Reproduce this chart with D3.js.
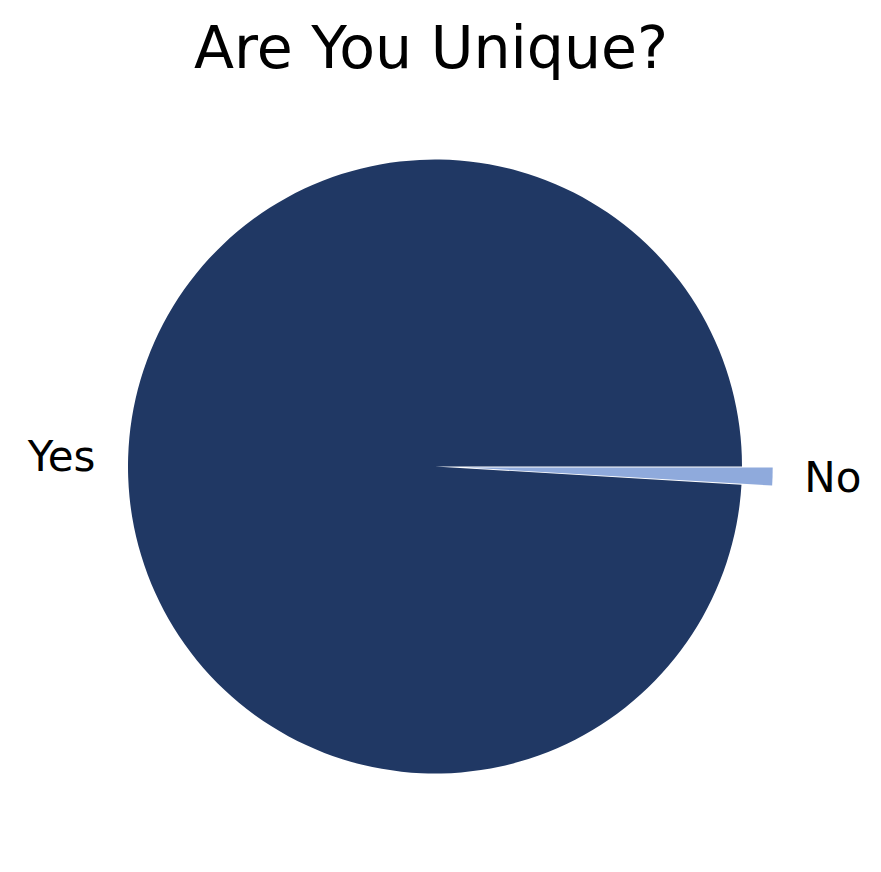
<!DOCTYPE html>
<html>
<head>
<meta charset="utf-8">
<script src="https://cdn.jsdelivr.net/npm/d3@7"></script>
<style>
  html, body { margin: 0; padding: 0; background: #ffffff; }
  svg { display: block; }
  text { font-family: "DejaVu Sans", sans-serif; fill: #000; }
</style>
</head>
<body>
<svg id="chart" width="881" height="872"></svg>
<script>
// Data
const categories = ["Yes", "No"];
const values = [105, 1];
const colors = ["#203864", "#8FAADC"];
const explode = [0, 0.1];
const title = "Are You Unique?";

const W = 881, H = 872;
const cx = 435, cy = 466.5, R = 307;

const svg = d3.select("#chart");

const data = categories.map((c, i) => ({ label: c, value: values[i], color: colors[i], explode: explode[i] }));

// matplotlib-style: start at east, counterclockwise
const pie = d3.pie()
  .sort(null)
  .value(d => d.value)
  .startAngle(Math.PI / 2)
  .endAngle(Math.PI / 2 - 2 * Math.PI);

const arcs = pie(data);
const arc = d3.arc().innerRadius(0).outerRadius(R);

const g = svg.append("g").attr("transform", `translate(${cx},${cy})`);

arcs.forEach(a => {
  const mid = (a.startAngle + a.endAngle) / 2;
  const off = a.data.explode * R;
  const dx = Math.sin(mid) * off, dy = -Math.cos(mid) * off;
  g.append("path")
    .attr("d", arc(a))
    .attr("transform", `translate(${dx},${dy})`)
    .attr("fill", a.data.color);
  const lr = 1.1 * R;
  const lx = dx + Math.sin(mid) * lr;
  const ly = dy - Math.cos(mid) * lr;
  g.append("text")
    .attr("x", lx + (lx < 0 ? -2 : 1))
    .attr("y", ly)
    .attr("text-anchor", lx < 0 ? "end" : "start")
    .attr("dominant-baseline", "central")
    .attr("font-size", 42)
    .text(a.data.label);
});

svg.append("text")
  .attr("x", 431)
  .attr("y", 67.5)
  .attr("text-anchor", "middle")
  .attr("font-size", 58.5)
  .text(title);
</script>
</body>
</html>
